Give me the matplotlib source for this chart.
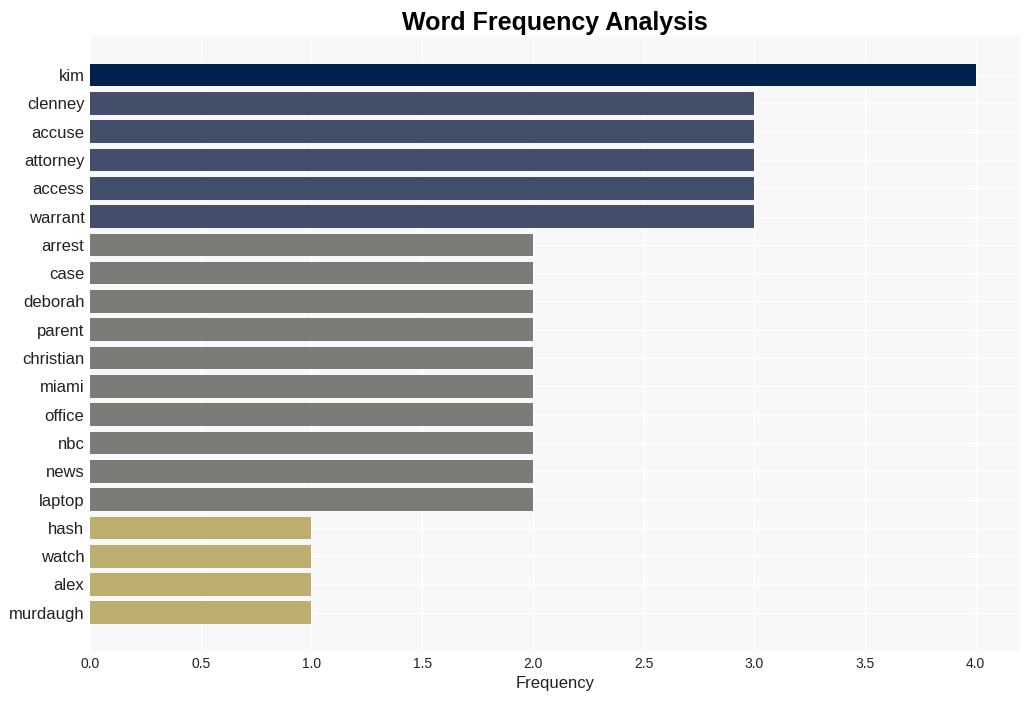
import matplotlib
matplotlib.use("Agg")
import matplotlib.pyplot as plt

plt.rcParams["font.family"] = ["Liberation Sans", "DejaVu Sans"]

words = ["kim", "clenney", "accuse", "attorney", "access", "warrant",
         "arrest", "case", "deborah", "parent", "christian", "miami",
         "office", "nbc", "news", "laptop", "hash", "watch", "alex", "murdaugh"]
counts = [4, 3, 3, 3, 3, 3, 2, 2, 2, 2, 2, 2, 2, 2, 2, 2, 1, 1, 1, 1]

colour_for = {4: "#00204e", 3: "#434e6b", 2: "#7c7b78", 1: "#bcae6e"}
colours = [colour_for[c] for c in counts]

fig = plt.figure(figsize=(10.30, 7.01), dpi=100)
ax = fig.add_axes([90 / 1030, 50 / 701, 930 / 1030, 615 / 701])
ax.set_facecolor("#f8f8f8")

ax.barh(words, counts, height=0.8, color=colours, zorder=2)
ax.set_ylim(len(words) - 1 + 1.35, -1.38)
ax.set_xlim(0, 4.2)
ax.set_xticks([0, 0.5, 1.0, 1.5, 2.0, 2.5, 3.0, 3.5, 4.0])

ax.grid(True, color="white", linewidth=1, zorder=0)
for side in ax.spines.values():
    side.set_visible(False)
ax.tick_params(length=0)
ax.tick_params(axis="y", labelsize=12, pad=4, colors="#222222")
ax.tick_params(axis="x", labelsize=10, pad=4, colors="#222222")

ax.set_xlabel("Frequency", fontsize=12, color="#222222", labelpad=4)
ax.set_title("Word Frequency Analysis", fontsize=18, fontweight="bold", pad=4)

fig.savefig("out.png", dpi=100)
